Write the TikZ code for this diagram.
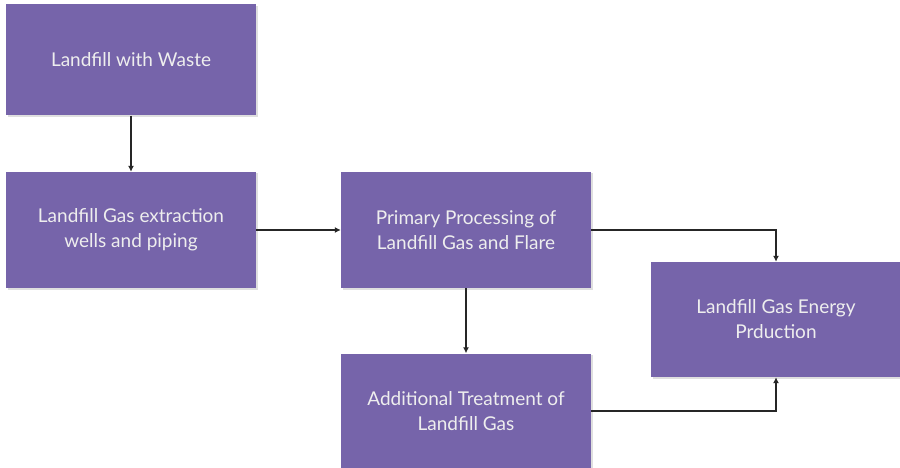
\documentclass[tikz,border=0pt]{standalone}
\usepackage{fontspec}
\setmainfont{Lato}
\usetikzlibrary{arrows.meta,shadows}
\definecolor{boxpurple}{HTML}{7664AA}
\definecolor{boxtext}{HTML}{EEEEEE}

\begin{document}
\begin{tikzpicture}[x=1pt,y=-1pt,
        stage/.style={fill=boxpurple, text=boxtext, minimum width=250pt, minimum height=115pt,
            align=center, inner sep=0pt, font=\fontsize{19}{25}\selectfont,
            drop shadow={shadow xshift=1.5pt, shadow yshift=-1.5pt, opacity=0.25}},
        flow/.style={-{Latex[length=6pt,width=6pt]}, line width=1.6pt, draw=black!85}]
        \useasboundingbox (0,0) rectangle (900,468);

        \node[stage, minimum height=111pt] (waste) at (131,60) {Landfill with Waste};
        \node[stage, minimum height=116pt] (wells) at (131,230) {Landfill Gas extraction\\wells and piping};
        \node[stage, minimum height=116pt] (primary) at (466,230) {Primary Processing of\\Landfill Gas and Flare};
        \node[stage] (additional) at (466,411) {Additional Treatment of\\Landfill Gas};
        \node[stage, minimum width=250pt] (energy) at (776,319.5) {Landfill Gas Energy\\Prduction};

        \draw[flow] (waste) -- (wells);
        \draw[flow] (wells) -- (primary);
        \draw[flow] (primary) -- (additional);
        \draw[flow] (primary.east) -| (energy.north);
        \draw[flow] (additional.east) -| (energy.south);
    \end{tikzpicture}
\end{document}
